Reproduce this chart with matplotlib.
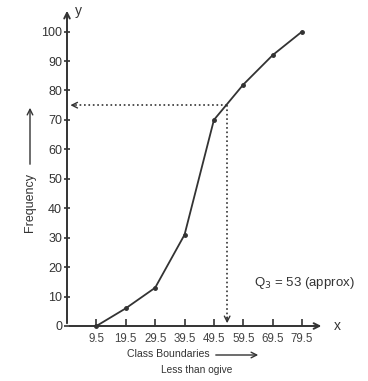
import matplotlib.pyplot as plt

plt.rcParams['font.family'] = ['Liberation Sans', 'DejaVu Sans']

# less than ogive data
boundaries = [9.5, 19.5, 29.5, 39.5, 49.5, 59.5, 69.5, 79.5]
cum_freq = [0, 6, 13, 31, 70, 82, 92, 100]
y_ticks = [0, 10, 20, 30, 40, 50, 60, 70, 80, 90, 100]
q3_x = 54
q3_y = 75

ink = '#333333'

fig = plt.figure(figsize=(3.68, 3.81), dpi=100)
ax = fig.add_axes([67 / 368, 55 / 381, 263 / 368, 318 / 381])
ax.set_xlim(-0.5, 89)
ax.set_ylim(0, 108)
for s in ax.spines.values():
    s.set_visible(False)

# axes with arrows
ax.annotate('', xy=(87, 0), xytext=(-0.5, 0),
            arrowprops=dict(arrowstyle='->', color=ink, lw=1.4), annotation_clip=False)
ax.annotate('', xy=(-0.5, 108), xytext=(-0.5, 0),
            arrowprops=dict(arrowstyle='->', color=ink, lw=1.4), annotation_clip=False)
ax.text(91.5, 0, 'x', fontsize=10, color=ink, ha='center', va='center')
ax.text(3.5, 107, 'y', fontsize=10, color=ink, ha='center', va='center')

ax.set_xticks(boundaries)
ax.set_xticklabels([str(b) for b in boundaries])
ax.set_yticks(y_ticks)
ax.tick_params(axis='x', direction='in', length=5, width=1.2, color=ink,
               labelcolor='#444444', labelsize=8.3, pad=5)
ax.tick_params(axis='y', direction='inout', length=5, width=1.2, color=ink,
               labelcolor=ink, labelsize=9, pad=1)

# ogive
ax.plot(boundaries, cum_freq, color=ink, lw=1.3, marker='o', ms=2.5, clip_on=False)

# Q3 construction lines
ax.plot([q3_x, q3_x], [q3_y, 2], color=ink, lw=1.2, ls=':')
ax.plot([q3_x, 1.5], [q3_y, q3_y], color=ink, lw=1.2, ls=':')
ax.annotate('', xy=(q3_x, 0), xytext=(q3_x, 4),
            arrowprops=dict(arrowstyle='->', color=ink, lw=1.0))
ax.annotate('', xy=(-0.3, q3_y), xytext=(3, q3_y),
            arrowprops=dict(arrowstyle='->', color=ink, lw=1.0))

ax.text(63, 14.5, 'Q$_3$ = 53 (approx)', fontsize=9.5, color=ink, va='center')

# axis titles
fig.text(127 / 368, 1 - 354 / 381, 'Class Boundaries', fontsize=7.6, color=ink,
         ha='left', va='center')
ax.annotate('', xy=(261 / 368, 1 - 355 / 381), xytext=(213 / 368, 1 - 355 / 381),
            xycoords='figure fraction',
            arrowprops=dict(arrowstyle='->', color=ink, lw=1.0))
fig.text(197 / 368, 1 - 370 / 381, 'Less than ogive', fontsize=7.3, color=ink,
         ha='center', va='center')
fig.text(30 / 368, 1 - 203 / 381, 'Frequency', fontsize=9, color=ink,
         rotation=90, ha='center', va='center')
ax.annotate('', xy=(30 / 368, 1 - 105 / 381), xytext=(30 / 368, 1 - 167 / 381),
            xycoords='figure fraction',
            arrowprops=dict(arrowstyle='->', color=ink, lw=1.0))

fig.savefig('out.png', dpi=100, facecolor='white')
